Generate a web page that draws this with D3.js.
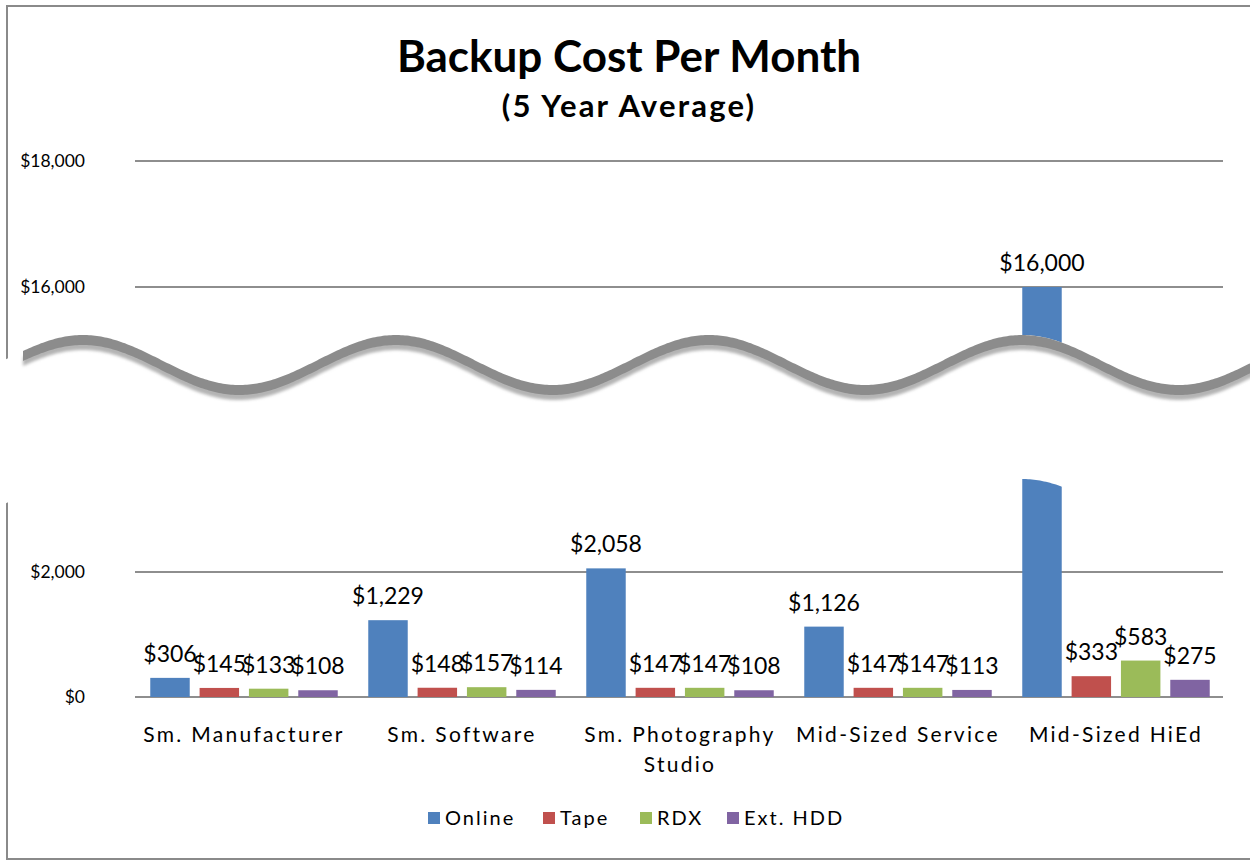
<!DOCTYPE html>
<html>
<head>
<meta charset="utf-8">
<script src="https://cdn.jsdelivr.net/npm/d3@7"></script>
<style>
  body { margin: 0; background: #fff; }
  text { font-family: Lato, "Noto Sans", sans-serif; fill: #000; }
</style>
</head>
<body>
<div id="chart"></div>
<script>
var categories = ["Sm. Manufacturer", "Sm. Software", "Sm. Photography Studio", "Mid-Sized Service", "Mid-Sized HiEd"];
var series = ["Online", "Tape", "RDX", "Ext. HDD"];
var online = [306, 1229, 2058, 1126, 16000];
var tape = [145, 148, 147, 147, 333];
var rdx = [133, 157, 147, 147, 583];
var extHdd = [108, 114, 108, 113, 275];
var tickValues = [0, 2000, 16000, 18000];
var colors = ["#4f81bd", "#c0504d", "#9bbb59", "#8064a2"];

var values = [online, tape, rdx, extHdd];

var width = 1250,
    height = 861;

var svg = d3.select("#chart")
  .append("svg")
    .attr("width", width)
    .attr("height", height);

// outer frame (right edge runs off the picture)
svg.append("rect")
    .attr("x", 7).attr("y", 6)
    .attr("width", 1260).attr("height", 853)
    .attr("fill", "none")
    .attr("stroke", "#8a8a8a")
    .attr("stroke-width", 2);

// title
svg.append("text")
    .attr("x", 629).attr("y", 72)
    .attr("text-anchor", "middle")
    .attr("font-size", 44)
    .attr("font-weight", "bold")
    .text("Backup Cost Per Month");

svg.append("text")
    .attr("x", 629).attr("y", 117)
    .attr("text-anchor", "middle")
    .attr("font-size", 31)
    .attr("font-weight", "bold")
    .attr("letter-spacing", 2.2)
    .text("(5 Year Average)");

// broken value axis: lower part 0..3600, upper part 15000..18000
var y = d3.scaleLinear()
    .domain([0, 3600, 15000, 18000])
    .range([697, 472, 350, 161]);

var x0 = d3.scaleBand()
    .domain(categories)
    .range([135, 1225])
    .paddingInner(0.14)
    .paddingOuter(0.07);

var x1 = d3.scaleBand()
    .domain(series)
    .range([0, x0.bandwidth()])
    .paddingInner(0.2);

var fmt = d3.format("$,");

// gridlines + tick labels
svg.append("g").selectAll("line")
  .data(tickValues)
  .enter().append("line")
    .attr("x1", 135).attr("x2", 1223)
    .attr("y1", d => y(d)).attr("y2", d => y(d))
    .attr("stroke", "#8e8e8e")
    .attr("stroke-width", 2);

svg.append("g").selectAll("text")
  .data(tickValues)
  .enter().append("text")
    .attr("x", 85)
    .attr("y", d => y(d))
    .attr("dy", "0.35em")
    .attr("text-anchor", "end")
    .attr("font-size", 17.5)
    .text(d => fmt(d));

// bars
var groups = svg.append("g").selectAll("g")
  .data(categories)
  .enter().append("g")
    .attr("transform", d => "translate(" + x0(d) + ",0)");

var cells = groups.selectAll("g")
  .data((c, ci) => series.map((s, si) => ({ s: s, si: si, v: values[si][ci] })))
  .enter().append("g");

cells.append("rect")
    .attr("x", d => x1(d.s))
    .attr("width", x1.bandwidth())
    .attr("y", d => y(d.v))
    .attr("height", d => y(0) - y(d.v))
    .attr("fill", d => colors[d.si]);

cells.append("text")
    .attr("x", d => x1(d.s) + x1.bandwidth() / 2)
    .attr("y", d => y(d.v) - 16)
    .attr("text-anchor", "middle")
    .attr("font-size", 23)
    .text(d => fmt(d.v));

// category labels (wrapped to two lines where needed)
var catLabels = svg.append("g").selectAll("text")
  .data(categories)
  .enter().append("text")
    .attr("x", d => x0(d) + x0.bandwidth() / 2)
    .attr("y", 742)
    .attr("text-anchor", "middle")
    .attr("font-size", 21)
    .attr("letter-spacing", 2.3);

catLabels.each(function(d) {
  var lines = d === "Sm. Photography Studio" ? ["Sm. Photography", "Studio"] : [d];
  var t = d3.select(this);
  lines.forEach(function(l, i) {
    t.append("tspan")
      .attr("x", x0(d) + x0.bandwidth() / 2)
      .attr("dy", i ? 30 : 0)
      .text(l);
  });
});

// axis break: white gap between two waves, then the grey band
var wave = function(x) { return 360 - 25 * Math.cos(2 * Math.PI * (x - 83) / 313); };
var gap = 144;
var xs = d3.range(0, width + 4, 2);

var defs = svg.append("defs");
defs.append("filter").attr("id", "soft")
  .append("feGaussianBlur").attr("stdDeviation", 1.6);

svg.append("path")
    .attr("d", d3.area().x(d => d).y0(d => wave(d) + gap).y1(d => wave(d))(xs))
    .attr("fill", "#fff");

var bandX = d3.range(23, width + 4, 2);
svg.append("path")
    .attr("d", d3.area().x(d => d).y0(d => wave(d) + 15).y1(d => wave(d) + 6)(bandX))
    .attr("fill", "#b4b4b4")
    .attr("filter", "url(#soft)");

svg.append("path")
    .attr("d", d3.area().x(d => d).y0(d => wave(d) + 10).y1(d => wave(d))(bandX))
    .attr("fill", "#8c8c8c");

// legend
var legend = svg.append("g")
    .attr("transform", "translate(428,812)");

var legX = [0, 115, 212, 299];
series.forEach(function(s, i) {
  legend.append("rect")
      .attr("x", legX[i]).attr("y", 0)
      .attr("width", 12).attr("height", 12)
      .attr("fill", colors[i]);
  legend.append("text")
      .attr("x", legX[i] + 17).attr("y", 6)
      .attr("dy", "0.35em")
      .attr("font-size", 20)
      .attr("letter-spacing", 2)
      .text(s);
});
</script>
</body>
</html>
